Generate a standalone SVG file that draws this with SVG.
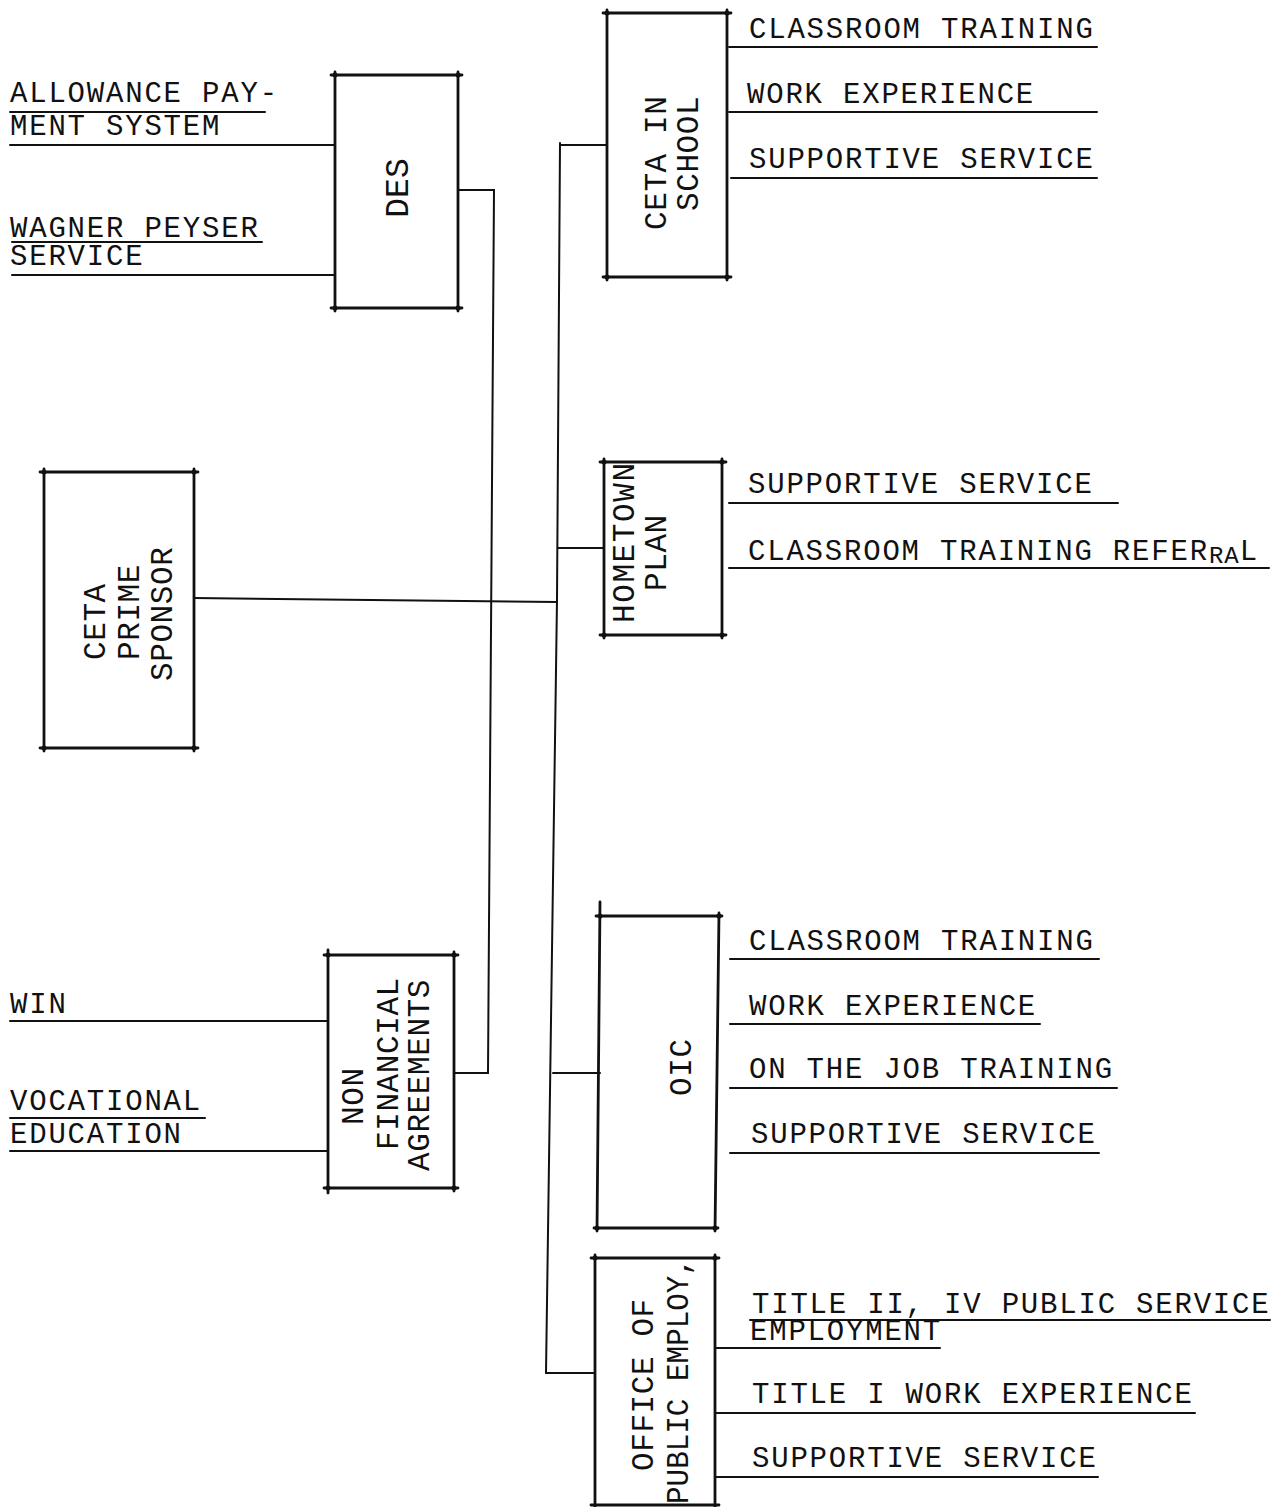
<svg xmlns="http://www.w3.org/2000/svg" width="1280" height="1507" viewBox="0 0 1280 1507">
<style>
.h{font-family:"Liberation Mono","DejaVu Sans Mono",monospace;font-size:29px;letter-spacing:1.8px;fill:#111}
.v{font-family:"Liberation Mono","DejaVu Sans Mono",monospace;font-size:31px;letter-spacing:0.6px;fill:#111}
.ln{stroke:#111;stroke-width:2;fill:none;stroke-linecap:round}
.bx{stroke:#111;stroke-width:2.8;fill:none;stroke-linecap:round}
.dot{fill:#111}
</style>
<rect width="1280" height="1507" fill="#fff"/>

<g id="connectors">
  <path class="ln" d="M560,143 L557,600 L553,880 L546,1373"/>
  <path class="ln" d="M560,145 L607,145"/>
  <path class="ln" d="M558,548 L604,548"/>
  <path class="ln" d="M194,598 L557,602"/>
  <path class="ln" d="M553,1073 L600,1073"/>
  <path class="ln" d="M546,1373 L595,1373"/>
  <path class="ln" d="M458,190 L494,190 L488,1073 L454,1073"/>
  <path class="ln" d="M10,145 L335,145"/>
  <path class="ln" d="M12,275 L335,275"/>
  <path class="ln" d="M10,1021 L328,1021"/>
  <path class="ln" d="M10,1151 L328,1151"/>
</g>

<g id="allowance">
  <text class="h" x="10" y="102">ALLOWANCE PAY-</text>
  <text class="h" x="10" y="135">MENT SYSTEM</text>
  <path class="ln" d="M10,112 L265,112"/>
</g>
<g id="wagner">
  <text class="h" x="10" y="237">WAGNER PEYSER</text>
  <text class="h" x="10" y="265">SERVICE</text>
  <path class="ln" d="M12,242 L262,242"/>
</g>

<g id="des">
  <path class="bx" d="M331,75 L462,75 M335,72 L335,311 M458,72 L458,311 M331,308 L462,308"/>
  <circle class="dot" cx="335" cy="75" r="2.5"/><circle class="dot" cx="458" cy="75" r="2.5"/>
  <circle class="dot" cx="335" cy="308" r="2.5"/><circle class="dot" cx="458" cy="308" r="2.5"/>
  <text class="v" transform="translate(408,188) rotate(-90)" text-anchor="middle" style="font-size:33px;letter-spacing:0">DES</text>
</g>

<g id="ceta-prime">
  <path class="bx" d="M40,472 L198,472 M44,469 L44,751 M194,469 L194,751 M40,748 L198,748"/>
  <circle class="dot" cx="44" cy="472" r="2.5"/><circle class="dot" cx="194" cy="472" r="2.5"/>
  <circle class="dot" cx="44" cy="748" r="2.5"/><circle class="dot" cx="194" cy="748" r="2.5"/>
  <text class="v" transform="translate(105,660) rotate(-90)">CETA</text>
  <text class="v" transform="translate(139,660) rotate(-90)">PRIME</text>
  <text class="v" transform="translate(172,681) rotate(-90)">SPONSOR</text>
</g>

<g id="nfa">
  <path class="bx" d="M324,955 L458,955 M328,950 L328,1193 M454,952 L454,1191 M324,1188 L458,1188"/>
  <circle class="dot" cx="328" cy="955" r="2.5"/><circle class="dot" cx="454" cy="955" r="2.5"/>
  <circle class="dot" cx="328" cy="1188" r="2.5"/><circle class="dot" cx="454" cy="1188" r="2.5"/>
  <text class="v" transform="translate(363,1125) rotate(-90)">NON</text>
  <text class="v" transform="translate(398,1150) rotate(-90)">FINANCIAL</text>
  <text class="v" transform="translate(429,1171) rotate(-90)">AGREEMENTS</text>
</g>
<g id="win">
  <text class="h" x="10" y="1013">WIN</text>
</g>
<g id="vocational">
  <text class="h" x="10" y="1110">VOCATIONAL</text>
  <text class="h" x="10" y="1143">EDUCATION</text>
  <path class="ln" d="M10,1118 L205,1118"/>
</g>

<g id="ceta-in-school">
  <path class="bx" d="M603,13 L731,13 M607,10 L607,280 M727,10 L727,280 M603,277 L731,277"/>
  <circle class="dot" cx="607" cy="13" r="2.5"/><circle class="dot" cx="727" cy="13" r="2.5"/>
  <circle class="dot" cx="607" cy="277" r="2.5"/><circle class="dot" cx="727" cy="277" r="2.5"/>
  <text class="v" transform="translate(666,230) rotate(-90)">CETA IN</text>
  <text class="v" transform="translate(698,211) rotate(-90)">SCHOOL</text>
  <text class="h" x="749" y="38">CLASSROOM TRAINING</text>
  <text class="h" x="747" y="103">WORK EXPERIENCE</text>
  <text class="h" x="749" y="168">SUPPORTIVE SERVICE</text>
  <path class="ln" d="M729,47 L1097,47 M729,112 L1097,112 M731,178 L1097,178"/>
</g>

<g id="hometown">
  <path class="bx" d="M600,462 L726,462 M604,459 L604,638 M722,459 L722,638 M600,635 L726,635"/>
  <circle class="dot" cx="604" cy="462" r="2.5"/><circle class="dot" cx="722" cy="462" r="2.5"/>
  <circle class="dot" cx="604" cy="635" r="2.5"/><circle class="dot" cx="722" cy="635" r="2.5"/>
  <text class="v" transform="translate(634,623) rotate(-90)" style="letter-spacing:1.6px">HOMETOWN</text>
  <text class="v" transform="translate(666,591) rotate(-90)">PLAN</text>
  <text class="h" x="748" y="493">SUPPORTIVE SERVICE</text>
  <text class="h" x="748" y="560">CLASSROOM TRAINING REFER<tspan dy="3" style="font-size:24px;letter-spacing:1px">RA</tspan><tspan dy="-3">L</tspan></text>
  <path class="ln" d="M729,503 L1118,503 M729,568 L1269,568"/>
</g>

<g id="oic">
  <path class="bx" d="M596,916 L722,916 M600,902 L597,1231 M719,913 L715,1231 M594,1228 L718,1228"/>
  <circle class="dot" cx="600" cy="916" r="2.5"/><circle class="dot" cx="719" cy="916" r="2.5"/>
  <circle class="dot" cx="597" cy="1228" r="2.5"/><circle class="dot" cx="715" cy="1228" r="2.5"/>
  <text class="v" transform="translate(691,1096) rotate(-90)">OIC</text>
  <text class="h" x="749" y="950">CLASSROOM TRAINING</text>
  <text class="h" x="749" y="1015">WORK EXPERIENCE</text>
  <text class="h" x="749" y="1078">ON THE JOB TRAINING</text>
  <text class="h" x="751" y="1143">SUPPORTIVE SERVICE</text>
  <path class="ln" d="M730,959 L1099,959 M730,1024 L1040,1024 M730,1088 L1117,1088 M730,1153 L1099,1153"/>
</g>

<g id="office-public-employ">
  <path class="bx" d="M591,1258 L719,1258 M595,1255 L595,1507 M715,1255 L715,1507 M591,1505 L719,1505"/>
  <circle class="dot" cx="595" cy="1258" r="2.5"/><circle class="dot" cx="715" cy="1258" r="2.5"/>
  <text class="v" transform="translate(653,1471) rotate(-90)">OFFICE OF</text>
  <text class="v" transform="translate(688,1504) rotate(-90)" textLength="246" lengthAdjust="spacingAndGlyphs" style="letter-spacing:0">PUBLIC EMPLOY,</text>
  <text class="h" x="752" y="1313">TITLE II, IV PUBLIC SERVICE</text>
  <text class="h" x="750" y="1340">EMPLOYMENT</text>
  <text class="h" x="752" y="1403">TITLE I WORK EXPERIENCE</text>
  <text class="h" x="752" y="1467">SUPPORTIVE SERVICE</text>
  <path class="ln" d="M750,1320 L1270,1320 M716,1348 L940,1348 M716,1413 L1195,1413 M716,1477 L1098,1477"/>
</g>
</svg>
